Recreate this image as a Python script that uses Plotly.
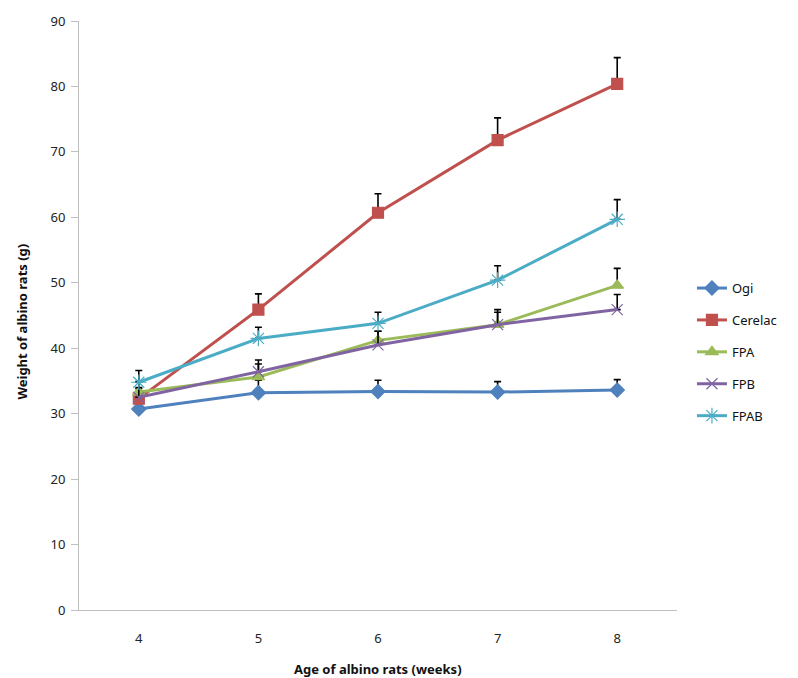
import plotly.graph_objects as go

weeks = ["4", "5", "6", "7", "8"]
series_names = ["Ogi", "Cerelac", "FPA", "FPB", "FPAB"]
ogi = [30.7, 33.2, 33.4, 33.3, 33.6]
ogi_err = [1.6, 1.9, 1.7, 1.6, 1.6]
cerelac = [32.3, 45.9, 60.7, 71.8, 80.4]
cerelac_err = [1.5, 2.4, 2.9, 3.4, 4.0]
fpa = [33.3, 35.6, 41.2, 43.6, 49.6]
fpa_err = [1.6, 2.0, 1.4, 2.3, 2.6]
fpb = [32.5, 36.4, 40.5, 43.6, 45.9]
fpb_err = [1.5, 1.8, 2.1, 1.9, 2.3]
fpab = [34.8, 41.5, 43.8, 50.4, 59.7]
fpab_err = [1.8, 1.7, 1.7, 2.2, 3.0]

values = [ogi, cerelac, fpa, fpb, fpab]
errors = [ogi_err, cerelac_err, fpa_err, fpb_err, fpab_err]
colors = ["#4F81BD", "#C0504D", "#9BBB59", "#8064A2", "#4BACC6"]
symbols = ["diamond", "square", "triangle-up", "x-thin-open", "asterisk-open"]
sizes = [11, 11, 11, 11, 13]

fig = go.Figure()
for i, name in enumerate(series_names):
    fig.add_trace(go.Scatter(
        x=weeks, y=values[i], name=name, mode="lines+markers",
        line=dict(color=colors[i], width=3),
        marker=dict(symbol=symbols[i], size=sizes[i], color=colors[i],
                    line=dict(color=colors[i], width=1.2)),
        error_y=dict(type="data", array=errors[i], arrayminus=[0]*5,
                     symmetric=False, color="black", thickness=1.6, width=3.5),
        legendgroup=name,
    ))

fig.update_layout(
    width=798, height=678,
    margin=dict(l=71, r=129, t=13, b=76, autoexpand=False),
    paper_bgcolor="white", plot_bgcolor="white",
    font=dict(family="Noto Sans, Open Sans, sans-serif", size=13, color="#222"),
    showlegend=True,
    legend=dict(x=1.025, y=0.572, xanchor="left", yanchor="top",
                tracegroupgap=12, font=dict(size=13, color="#111"),
                bgcolor="rgba(0,0,0,0)"),
    xaxis=dict(
        type="category", range=[-0.5, 4.5], showgrid=False, zeroline=False, automargin=False,
        showline=True, linecolor="#BFBFBF", linewidth=1,
        ticks="", ticklabelstandoff=16, tickfont=dict(size=13, color="#222"),
    ),
    yaxis=dict(
        range=[0, 90], dtick=10, showgrid=False, zeroline=False, automargin=False,
        showline=True, linecolor="#BFBFBF", linewidth=1,
        ticks="outside", ticklen=7, tickcolor="#BFBFBF", ticklabelstandoff=3,
        tickfont=dict(size=13, color="#222"),
    ),
    annotations=[
        dict(text="<b>Age of albino rats (weeks)</b>", xref="paper", yref="paper",
             x=0.5, y=-0.1, xanchor="center", yanchor="middle", showarrow=False,
             font=dict(size=13, color="#111")),
        dict(text="<b>Weight of albino rats (g)</b>", xref="paper", yref="paper",
             x=-0.095, y=0.49, xanchor="center", yanchor="middle", showarrow=False,
             textangle=-90, font=dict(size=13, color="#111")),
    ],
)

fig.write_html("out.html")
